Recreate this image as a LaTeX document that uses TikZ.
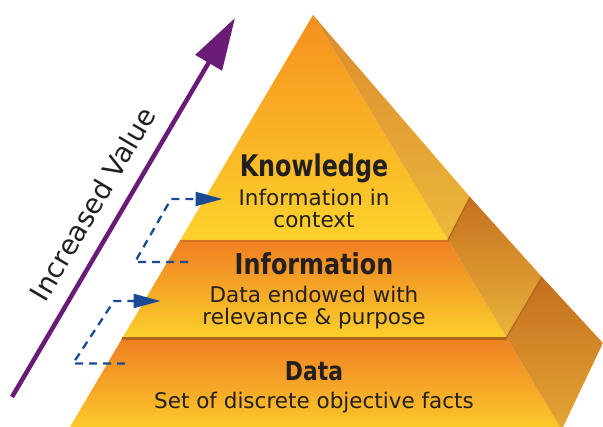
\documentclass[tikz,border=0pt]{standalone}
\usepackage{fontspec}
\setmainfont{DejaVu Sans}
\usepackage{graphicx}
\usetikzlibrary{arrows.meta}
\definecolor{txt}{HTML}{231F20}
\definecolor{purp}{HTML}{6A1B78}
\definecolor{dblue}{HTML}{1A4A94}
\definecolor{kTop}{HTML}{F5901E}
\definecolor{kMid}{HTML}{F8A023}
\definecolor{kBot}{HTML}{FDD22C}
\definecolor{iTop}{HTML}{EF7F22}
\definecolor{iMid}{HTML}{F59C25}
\definecolor{iBot}{HTML}{FCCF2C}
\definecolor{dTop}{HTML}{EE7E22}
\definecolor{dMid}{HTML}{F5A126}
\definecolor{dBot}{HTML}{FCC82B}
\definecolor{ksTop}{HTML}{DB8B2B}
\definecolor{ksBot}{HTML}{EDB83C}
\definecolor{isTop}{HTML}{C6701F}
\definecolor{isBot}{HTML}{EAB43A}
\definecolor{dsTop}{HTML}{C56E1F}
\definecolor{dsBot}{HTML}{E3A533}
\definecolor{lipA}{HTML}{D4751C}
\definecolor{lipB}{HTML}{B0651C}
\begin{document}
\begin{tikzpicture}[x=1pt,y=-1pt,
  lbl/.style={anchor=base, text=txt, inner sep=0pt, font=\fontsize{21.5}{22}\selectfont},
  ttl/.style={anchor=base, text=txt, inner sep=0pt},
  dashconn/.style={draw=dblue, line width=2.3pt, dash pattern=on 8pt off 6pt, -{Triangle[length=27pt,width=14pt]}},
  stepedge/.style={draw=lipB, line width=1.2pt}]
\useasboundingbox (0,0) rectangle (603,427);
% pyramid corners
\coordinate (apex) at (313,15);
\coordinate (kl) at (180.3,240);
\coordinate (kr) at (448,240);
\coordinate (ko) at (470,197);
\coordinate (il) at (122.7,337.5);
\coordinate (ir) at (506.5,337.5);
\coordinate (io) at (542,277);
\coordinate (dl) at (70,427);
\coordinate (dr) at (560,427);
\coordinate (do) at (603,343);
\coordinate (db) at (563,427);
% knowledge tier
\shade[top color=kTop, middle color=kMid, bottom color=kBot] (apex) -- (kl) -- (kr) -- cycle;
\shade[top color=ksTop, bottom color=ksBot] (apex) -- (ko) -- (kr) -- cycle;
% information tier
\shade[top color=iTop, middle color=iMid, bottom color=iBot] (kl) -- (il) -- (ir) -- (kr) -- cycle;
\shade[top color=isTop, bottom color=isBot] (kr) -- (ko) -- (io) -- (ir) -- cycle;
% data tier
\shade[top color=dTop, middle color=dMid, bottom color=dBot] (il) -- (dl) -- (dr) -- (ir) -- cycle;
\shade[top color=dsTop, bottom color=dsBot] (ir) -- (io) -- (do) -- (db) -- (dr) -- cycle;
% lips
\coordinate (lia) at (179.5,241.3);
\coordinate (lib) at (448.8,241.3);
\coordinate (lda) at (122.4,338.3);
\coordinate (ldb) at (506.9,338.3);
\draw[lipA, line width=2pt] (lia) -- (lib);
\draw[lipB, line width=2.6pt] (lda) -- (ldb);
\draw[stepedge] (kr) -- (ko);
\draw[stepedge] (ir) -- (io);
% texts
\node[ttl, font=\fontsize{29.8}{30}\selectfont\bfseries] (tk) at (314,176.7) {\scalebox{0.8}[1]{Knowledge}};
\node[lbl] (tk1) at (314,205.3) {Information in};
\node[lbl] (tk2) at (314,227.5) {context};
\node[ttl, font=\fontsize{28.8}{29}\selectfont\bfseries] (ti) at (314,274.3) {\scalebox{0.83}[1]{Information}};
\node[lbl] (ti1) at (314,302.3) {Data endowed with};
\node[lbl] (ti2) at (314,325) {relevance \& purpose};
\node[ttl, font=\fontsize{26}{27}\selectfont\bfseries] (td) at (314,380.7) {\scalebox{0.84}[1]{Data}};
\node[lbl] (td1) at (314,408.3) {Set of discrete objective facts};
% value arrow
\coordinate (vt) at (12,397);
\coordinate (vh) at (235,18);
\draw[purp, line width=4.5pt, -{Triangle[length=52pt,width=30pt]}] (vt) -- (vh);
\node[rotate=59.5, text=txt, inner sep=0pt, font=\fontsize{27.5}{28}\selectfont] (iv) at (92.5,204) {Increased Value};
% dashed connectors
\coordinate (a1s) at (188,262);
\coordinate (a1b) at (135,262);
\coordinate (a1c) at (171,199);
\coordinate (a1e) at (222.5,199);
\draw[dashconn] (a1s) -- (a1b) -- (a1c) -- (a1e);
\coordinate (a2s) at (125,363.5);
\coordinate (a2b) at (73,363.5);
\coordinate (a2c) at (114,301);
\coordinate (a2e) at (160.5,301);
\draw[dashconn] (a2s) -- (a2b) -- (a2c) -- (a2e);
\end{tikzpicture}
\end{document}
